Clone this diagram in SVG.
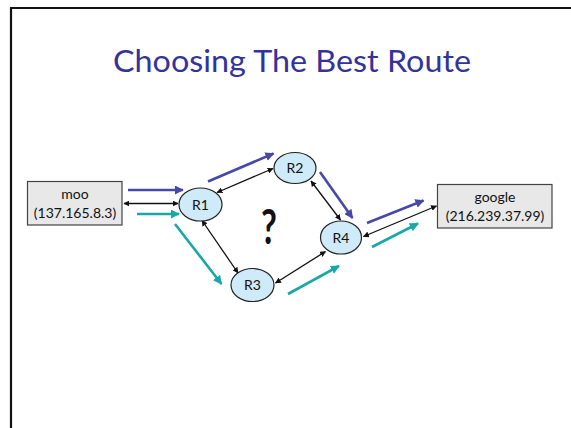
<svg xmlns="http://www.w3.org/2000/svg" width="571" height="428" viewBox="0 0 571 428">
  <style>
    .title { font-family: Lato, "Open Sans", "Liberation Sans", sans-serif; font-size: 30px; fill: #333399; }
    .lbl { font-family: Lato, "Open Sans", "Liberation Sans", sans-serif; font-size: 14px; fill: #111; text-anchor: middle; }
    .host { fill: #e8e8e8; stroke: #444; stroke-width: 1.2; }
    .router { fill: #cfeaf9; stroke: #222; stroke-width: 1.2; }
    .link { stroke: #111; stroke-width: 1.3; fill: none; marker-start: url(#tipS); marker-end: url(#tipE); }
    .blue { stroke: #4848a8; stroke-width: 2.6; fill: none; marker-end: url(#tipBlue); }
    .teal { stroke: #19a8a8; stroke-width: 2.6; fill: none; marker-end: url(#tipTeal); }
  </style>
  <defs>
    <marker id="tipE" viewBox="0 0 10 10" refX="9" refY="5" markerWidth="6" markerHeight="6" orient="auto" markerUnits="userSpaceOnUse">
      <path d="M0,0 L10,5 L0,10 z" fill="#111"/>
    </marker>
    <marker id="tipS" viewBox="0 0 10 10" refX="1" refY="5" markerWidth="6" markerHeight="6" orient="auto" markerUnits="userSpaceOnUse">
      <path d="M10,0 L0,5 L10,10 z" fill="#111"/>
    </marker>
    <marker id="tipBlue" viewBox="0 0 10 10" refX="9" refY="5" markerWidth="9" markerHeight="9" orient="auto" markerUnits="userSpaceOnUse">
      <path d="M0,0 L10,5 L0,10 z" fill="#4848a8"/>
    </marker>
    <marker id="tipTeal" viewBox="0 0 10 10" refX="9" refY="5" markerWidth="9" markerHeight="9" orient="auto" markerUnits="userSpaceOnUse">
      <path d="M0,0 L10,5 L0,10 z" fill="#19a8a8"/>
    </marker>
  </defs>

  <rect width="571" height="428" fill="#fff"/>
  <!-- slide frame -->
  <path d="M11,428 V8 H571" fill="none" stroke="#111" stroke-width="2.2"/>

  <text class="title" x="292" y="72" text-anchor="middle" textLength="358" lengthAdjust="spacingAndGlyphs">Choosing The Best Route</text>

  <g id="connectors">
    <!-- physical links -->
    <line class="link" x1="124" y1="203.5" x2="178" y2="203.5"/>
    <line class="link" x1="217" y1="192.5" x2="273" y2="168.5"/>
    <line class="link" x1="202" y1="220.5" x2="238" y2="273"/>
    <line class="link" x1="311" y1="181" x2="340.5" y2="220"/>
    <line class="link" x1="275.5" y1="283" x2="325.5" y2="251.5"/>
    <line class="link" x1="363.5" y1="236.5" x2="436.5" y2="206"/>
    <!-- blue route via R2 -->
    <line class="blue" x1="128" y1="190" x2="183" y2="190"/>
    <line class="blue" x1="208" y1="181.5" x2="273.5" y2="153.5"/>
    <line class="blue" x1="320" y1="172" x2="352.5" y2="218"/>
    <line class="blue" x1="367" y1="223" x2="423.5" y2="200.5"/>
    <!-- teal route via R3 -->
    <line class="teal" x1="137" y1="214" x2="179" y2="214"/>
    <line class="teal" x1="175" y1="224" x2="221.5" y2="284"/>
    <line class="teal" x1="288" y1="294" x2="339" y2="266"/>
    <line class="teal" x1="372" y1="247" x2="418" y2="223.5"/>
  </g>

  <g id="moo">
    <rect class="host" x="27.5" y="181.5" width="94.5" height="43.5"/>
    <text class="lbl" x="75" y="199">moo</text>
    <text class="lbl" x="75" y="218">(137.165.8.3)</text>
  </g>
  <g id="google">
    <rect class="host" x="437.5" y="184.5" width="114.5" height="43.5"/>
    <text class="lbl" x="495" y="202">google</text>
    <text class="lbl" x="495" y="221">(216.239.37.99)</text>
  </g>
  <g id="R1">
    <ellipse class="router" cx="200.5" cy="204.5" rx="21.5" ry="16.5"/>
    <text class="lbl" x="200.5" y="209.5">R1</text>
  </g>
  <g id="R2">
    <ellipse class="router" cx="295" cy="168" rx="21" ry="15.5"/>
    <text class="lbl" x="295" y="173">R2</text>
  </g>
  <g id="R3">
    <ellipse class="router" cx="252.5" cy="285" rx="21.5" ry="16.5"/>
    <text class="lbl" x="252.5" y="290">R3</text>
  </g>
  <g id="R4">
    <ellipse class="router" cx="341" cy="237.5" rx="20.5" ry="16.5"/>
    <text class="lbl" x="341" y="242.5">R4</text>
  </g>

  <text x="269" y="244" font-family="Lato, 'Open Sans', 'Liberation Sans', sans-serif" font-size="48" font-weight="bold" fill="#111" text-anchor="middle" transform="translate(269 0) scale(0.72 1) translate(-269 0)">?</text>
</svg>
